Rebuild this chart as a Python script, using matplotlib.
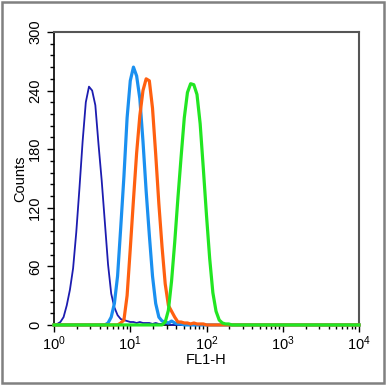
import matplotlib
matplotlib.use('Agg')
import matplotlib.pyplot as plt
from matplotlib.patches import Rectangle
from matplotlib.ticker import MultipleLocator, LogLocator, NullFormatter
import numpy as np

# histogram channels: 24 per decade, 10^0 .. 10^4
channels_per_decade = 24
n_channels = 4 * channels_per_decade + 1

# counts, each list starts at the given channel
dark_blue_start = 0
dark_blue_counts = [0, 1, 3, 8, 20, 36, 58, 95, 140, 188, 228, 244, 240, 225,
                    185, 148, 105, 62, 32, 18, 10, 6, 5, 4, 3, 3, 2, 3, 2, 2,
                    2, 1, 2, 1, 1, 1, 1, 0]
light_blue_start = 17
light_blue_counts = [2, 8, 22, 50, 100, 152, 212, 250, 264, 255, 232, 188, 137,
                     92, 50, 22, 8, 4, 3, 2, 4, 2, 1, 1, 0]
orange_start = 20
orange_counts = [0, 2, 5, 30, 78, 128, 176, 214, 240, 252, 250, 222, 175, 124,
                 80, 42, 20, 14, 8, 3, 3, 2, 2, 1, 2, 1, 1, 1, 0]
green_start = 34
green_counts = [0, 3, 15, 45, 85, 130, 172, 212, 238, 247, 246, 236, 206, 160,
                112, 68, 33, 14, 5, 2, 1, 1, 0]

series = [
    (dark_blue_start, dark_blue_counts, '#1c1cb0', 1.3),
    (light_blue_start, light_blue_counts, '#1a90f0', 2.3),
    (orange_start, orange_counts, '#ff6010', 2.3),
    (green_start, green_counts, '#22e622', 2.3),
]

fig = plt.figure(figsize=(3.86, 3.85), dpi=100)
plt.rcParams['font.family'] = ['Liberation Sans', 'DejaVu Sans']
ax = fig.add_axes([0.140, 0.156, 0.790, 0.761])

x = 10 ** (np.arange(n_channels) / channels_per_decade)
for start, counts, color, lw in series:
    y = np.zeros(n_channels)
    y[start:start + len(counts)] = counts
    ax.plot(x, y, color=color, lw=lw, clip_on=False, zorder=3)

ax.set_xscale('log')
ax.set_xlim(1, 1e4)
ax.set_ylim(0, 300)
ax.yaxis.set_major_locator(MultipleLocator(60))
ax.yaxis.set_minor_locator(MultipleLocator(12))
ax.xaxis.set_major_locator(LogLocator(base=10, numticks=10))
ax.xaxis.set_minor_locator(LogLocator(base=10, subs=np.arange(2, 10), numticks=10))
ax.xaxis.set_minor_formatter(NullFormatter())
ax.tick_params(which='major', length=5, width=1, labelsize=10.5, direction='out')
ax.tick_params(which='minor', length=3, width=1, direction='out')
ax.tick_params(axis='x', which='major', pad=1.5)
for lab in ax.get_yticklabels():
    lab.set_rotation(90)
    lab.set_va('center')
ax.set_xlabel('FL1-H', fontsize=10.5, labelpad=0)
ax.set_ylabel('Counts', fontsize=10.5, labelpad=1)
for side in ['top', 'right']:
    ax.spines[side].set_color('#555555')
    ax.spines[side].set_linewidth(1.5)
for side in ['left', 'bottom']:
    ax.spines[side].set_linewidth(1.2)

fig.patches.append(Rectangle((0.004, 0.004), 0.992, 0.992, transform=fig.transFigure,
                             fill=False, edgecolor='#808080', lw=1.8))

fig.savefig('out.png', dpi=100)
